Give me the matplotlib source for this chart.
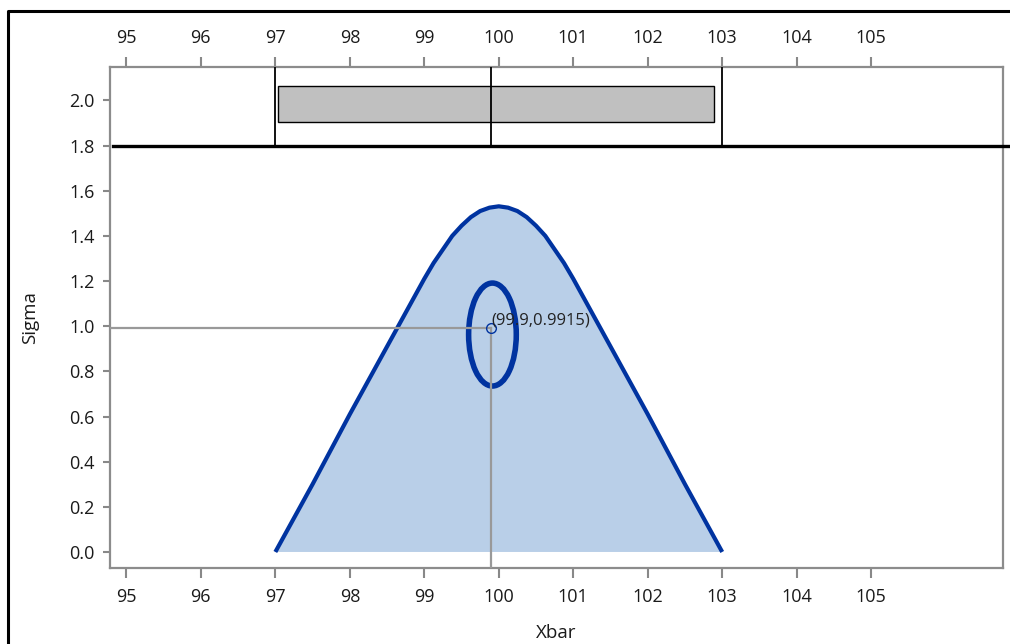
import numpy as np
import matplotlib
matplotlib.use("Agg")
import matplotlib.pyplot as plt
from matplotlib.patches import Ellipse, Rectangle
from matplotlib.lines import Line2D

plt.rcParams['font.family'] = ['Open Sans', 'DejaVu Sans']

# ---------------- dados ----------------
contour_x = [97.0, 97.5, 98.0, 98.5, 98.75, 99.0, 99.125, 99.25, 99.375, 99.5, 99.625,
             99.75, 99.875, 100.0, 100.125, 100.25, 100.375, 100.5, 100.625, 100.75,
             100.875, 101.0, 101.25, 101.5, 102.0, 102.5, 103.0]
contour_y = [0.0, 0.30, 0.61, 0.91, 1.06, 1.21, 1.28, 1.34, 1.40, 1.445, 1.483,
             1.51, 1.525, 1.531, 1.525, 1.51, 1.483, 1.445, 1.40, 1.34,
             1.28, 1.21, 1.06, 0.91, 0.61, 0.30, 0.0]

ell_center = (99.915, 0.963)
ell_width = 0.64
ell_height = 0.456

point_x = 99.9
point_y = 0.9915
point_label = "(99.9,0.9915)"

ref_lines = [97.0, 99.9, 103.0]
box_x = [97.03, 102.89]
box_y = [1.906, 2.064]
split_y = 1.8

xticks = [95, 96, 97, 98, 99, 100, 101, 102, 103, 104, 105]
yticks = [0.0, 0.2, 0.4, 0.6, 0.8, 1.0, 1.2, 1.4, 1.6, 1.8, 2.0]

# ---------------- figura ----------------
W, H = 1010, 644
fig = plt.figure(figsize=(W / 100, H / 100), dpi=100)
ax = fig.add_axes([110 / W, 1 - 568 / H, 893 / W, 501 / H])

xlim = (94.78, 106.77)
ylim = (-0.071, 2.148)
ax.set_xlim(*xlim)
ax.set_ylim(*ylim)

line_blue = '#0033A0'
fill_blue = '#B9CFE8'
grey = '#999999'

# regiao / contorno
ax.fill(contour_x, contour_y, color=fill_blue, lw=0, zorder=1)
ax.plot(contour_x, contour_y, color=line_blue, lw=3.0, solid_capstyle='butt',
        solid_joinstyle='round', zorder=3)

# elipse
ell = Ellipse(ell_center, ell_width, ell_height, fill=False, edgecolor=line_blue, lw=4.0, zorder=4)
ax.add_patch(ell)

# linhas de referencia cinza
ax.plot([xlim[0], point_x], [point_y, point_y], color=grey, lw=1.6, zorder=5)
ax.plot([point_x, point_x], [ylim[0], point_y], color=grey, lw=1.6, zorder=5)
ax.plot([point_x], [point_y], marker='o', ms=7, mfc='none', mec=line_blue, mew=1.0, zorder=6)
ax.annotate(point_label, (point_x, point_y), xytext=(0, 0), textcoords='offset points',
            fontsize=12, color='#222222', va='bottom', ha='left', zorder=7)

# painel superior
ax.plot([94.82, 106.9], [split_y, split_y], color='black', lw=2.4, clip_on=False, zorder=5)
for xv in ref_lines:
    ax.plot([xv, xv], [split_y, ylim[1]], color='black', lw=1.3, zorder=5)
ax.add_patch(Rectangle((box_x[0], box_y[0]), box_x[1] - box_x[0], box_y[1] - box_y[0],
                       facecolor='#C0C0C0', edgecolor='black', lw=1.0, zorder=4))

# eixos
ax.set_xticks(xticks)
ax.set_yticks(yticks)
ax.set_yticklabels(["%.1f" % v for v in yticks])
ax.tick_params(axis='both', colors='#888888', labelcolor='#1a1a1a', labelsize=13,
               length=7.5, width=1.5, direction='out')
ax.tick_params(axis='x', bottom=True, top=True, labeltop=True, pad=7)
ax.tick_params(axis='y', length=5, pad=6)
for sp in ax.spines.values():
    sp.set_color('#8C8C8C')
    sp.set_linewidth(1.6)

ax.set_xlabel("Xbar", fontsize=13.5, color='#1a1a1a', labelpad=13)
ax.set_ylabel("Sigma", fontsize=13.5, color='#1a1a1a', labelpad=22)

# borda externa
fig.add_artist(Line2D([8 / W, 8 / W, 1.0], [0.0, 1 - 11 / H, 1 - 11 / H],
                      transform=fig.transFigure, color='black', lw=2.2))

fig.savefig("out.png", dpi=100)
